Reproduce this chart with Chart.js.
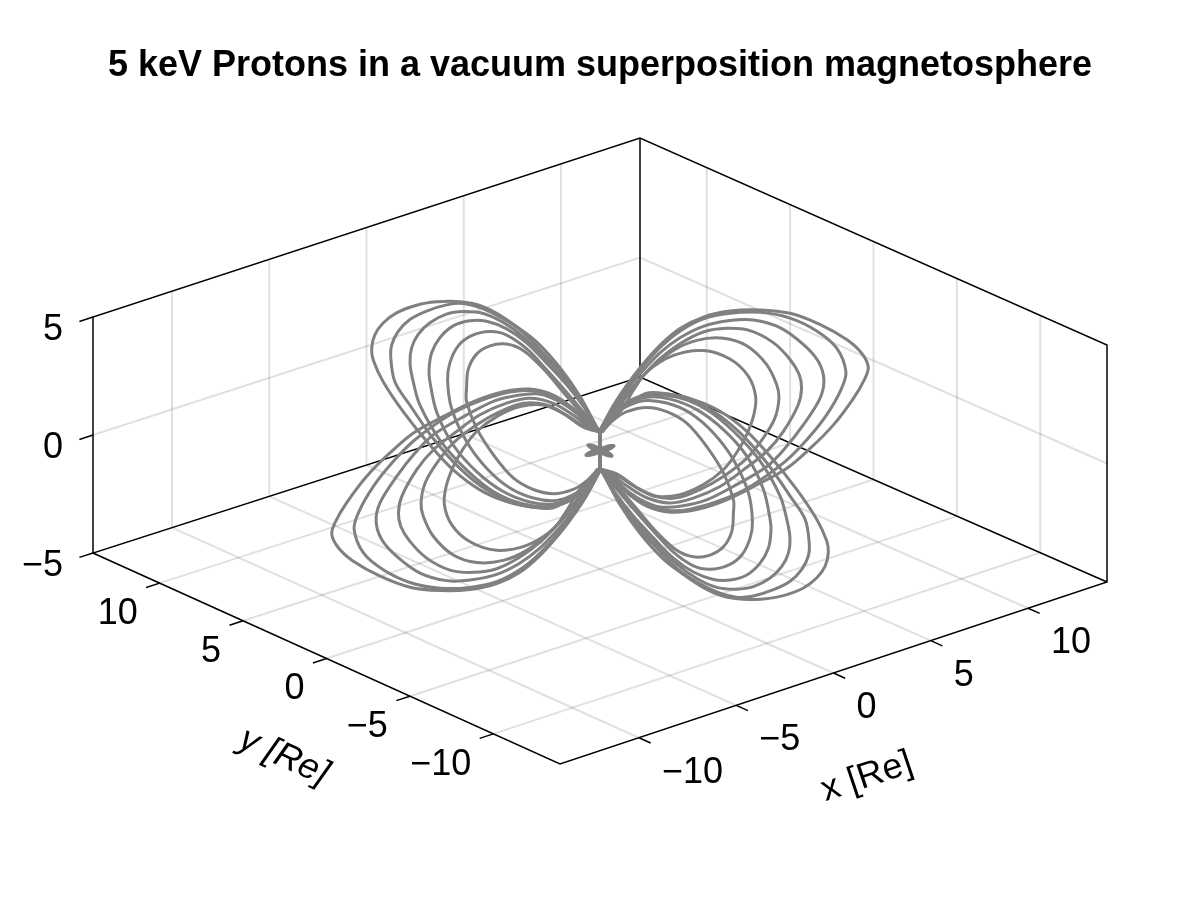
<!DOCTYPE html>
<html>
<head>
<meta charset="utf-8">
<style>
  html, body { margin: 0; padding: 0; background: #fff; }
  canvas { display: block; }
</style>
<script src="https://cdn.jsdelivr.net/npm/chart.js@4"></script>
</head>
<body>
<canvas id="myChart" width="1200" height="900"></canvas>
<script>
const chartTitle = '5 keV Protons in a vacuum superposition magnetosphere';
const xTicks = [-10, -5, 0, 5, 10];
const yTicks = [10, 5, 0, -5, -10];
const zTicks = [-5, 0, 5];
const xLimit = 14.06;
const yLimit = 14;
const zLimit = 5;

// distance from the axis and height of each trajectory
// yLoop* are used for the +y lobe and, negated, for the -y lobe. xLoop* the same for x
const yLoopR = [
  [0.10, 1.20, 2.40, 3.80, 5.00, 6.20, 7.40, 8.60, 9.80, 11.0, 12.2, 13.0, 13.5, 13.69, 13.59, 13.0, 11.79, 10.2, 8.80, 7.20, 5.60, 4.00, 2.80, 1.60, 0.80, 0.11],
  [0.10, 1.20, 2.20, 3.40, 4.60, 5.80, 7.00, 8.20, 9.20, 10.4, 11.4, 12.1, 12.49, 12.55, 12.3, 11.4, 10.0, 8.40, 6.80, 5.00, 3.00, 1.50, 0.11],
  [0.10, 1.20, 2.20, 3.40, 4.60, 5.80, 7.00, 8.20, 9.20, 10.2, 10.9, 11.3, 11.39, 11.2, 10.8, 9.60, 8.00, 6.40, 4.60, 2.80, 1.40, 0.11],
  [0.10, 1.00, 2.00, 3.20, 4.40, 5.60, 6.80, 7.80, 8.80, 9.60, 10.1, 10.25, 10.2, 9.80, 8.80, 7.40, 5.80, 4.20, 2.80, 1.40, 0.11],
  [0.10, 1.00, 2.00, 3.20, 4.40, 5.60, 6.60, 7.70, 8.50, 9.00, 9.14, 8.90, 8.00, 6.80, 5.40, 4.00, 2.60, 1.40, 0.60, 0.11],
  [0.10, 1.00, 2.20, 3.40, 4.60, 5.60, 6.60, 7.40, 7.90, 8.00, 8.00, 7.40, 6.40, 5.20, 4.00, 2.80, 1.60, 0.80, 0.11]
];
const yLoopZ = [
  [0.82, 1.91, 2.74, 3.39, 3.66, 3.84, 3.83, 3.58, 3.19, 2.67, 1.97, 1.29, 0.64, 0.00, -0.46, -1.18, -2.07, -2.97, -3.58, -3.92, -3.91, -3.65, -3.30, -2.42, -1.67, -0.81],
  [0.82, 1.84, 2.52, 3.04, 3.52, 3.73, 3.77, 3.62, 3.25, 2.61, 1.94, 1.22, 0.53, 0.02, -0.96, -1.66, -2.63, -3.39, -3.79, -3.83, -3.33, -2.39, -0.81],
  [0.82, 1.77, 2.38, 2.90, 3.35, 3.58, 3.58, 3.28, 2.86, 2.18, 1.47, 0.77, 0.10, -0.61, -1.47, -2.57, -3.33, -3.74, -3.70, -3.22, -2.36, -0.81],
  [0.82, 1.55, 2.14, 2.68, 3.16, 3.37, 3.31, 3.02, 2.49, 1.74, 0.94, 0.19, -0.29, -1.44, -2.53, -3.21, -3.55, -3.49, -3.13, -2.31, -0.81],
  [0.82, 1.31, 1.83, 2.40, 2.91, 3.11, 2.94, 2.42, 1.74, 0.87, 0.12, -1.01, -2.13, -2.88, -3.28, -3.26, -2.92, -2.22, -1.46, -0.81],
  [0.82, 1.17, 1.77, 2.38, 2.77, 2.73, 2.34, 1.74, 0.94, 0.13, -0.44, -1.38, -2.18, -2.79, -2.90, -2.70, -2.14, -1.53, -0.81]
];
const xLoopR = [
  [0.00, 0.69, 1.37, 2.06, 3.08, 4.11, 5.31, 6.68, 8.22, 9.77, 11.3, 12.68, 13.45, 13.79, 13.62, 13.02, 11.99, 10.79, 9.59, 8.05, 6.51, 4.97, 3.60, 2.40, 1.37, 0.51, 0.00],
  [0.00, 0.69, 1.37, 2.06, 3.08, 4.11, 5.31, 6.68, 8.22, 9.77, 11.14, 12.16, 12.64, 12.42, 11.65, 10.62, 9.51, 7.71, 6.17, 4.63, 3.43, 2.31, 1.37, 0.51, 0.00],
  [0.00, 0.69, 1.37, 2.06, 3.08, 4.11, 5.31, 6.68, 7.88, 9.25, 10.45, 11.22, 11.51, 11.31, 10.45, 9.51, 8.56, 6.85, 5.48, 4.28, 3.08, 2.06, 1.20, 0.51, 0.00],
  [0.00, 0.69, 1.37, 2.06, 3.08, 4.11, 5.31, 6.51, 7.71, 8.91, 9.77, 10.24, 10.36, 10.19, 9.42, 8.56, 7.37, 6.17, 4.80, 3.60, 2.40, 1.37, 0.51, 0.00],
  [0.00, 0.86, 1.71, 2.57, 3.77, 4.97, 6.34, 7.54, 8.56, 9.08, 9.20, 8.99, 8.39, 7.54, 6.34, 5.14, 3.94, 2.74, 1.71, 0.69, 0.00],
  [0.00, 1.03, 1.71, 2.40, 3.77, 5.31, 6.68, 7.62, 8.00, 7.91, 7.54, 7.03, 6.34, 5.31, 4.11, 2.91, 1.89, 0.86, 0.00]
];
const xLoopZ = [
  [0.85, 1.72, 2.38, 2.94, 3.60, 4.03, 4.19, 4.07, 3.70, 3.14, 2.26, 1.25, 0.47, -0.19, -0.64, -1.32, -2.16, -2.83, -3.34, -3.62, -3.83, -3.83, -3.57, -2.99, -2.14, -1.20, -0.78],
  [0.85, 1.67, 2.31, 2.85, 3.50, 3.92, 4.11, 3.98, 3.60, 2.94, 2.03, 1.04, -0.08, -0.73, -1.64, -2.42, -3.03, -3.60, -3.77, -3.72, -3.44, -2.83, -2.07, -1.17, -0.78],
  [0.85, 1.62, 2.19, 2.68, 3.28, 3.64, 3.80, 3.67, 3.37, 2.68, 1.65, 0.73, -0.12, -0.85, -1.74, -2.47, -2.99, -3.36, -3.56, -3.48, -3.21, -2.61, -1.89, -1.13, -0.78],
  [0.85, 1.50, 2.03, 2.47, 3.04, 3.39, 3.56, 3.39, 2.97, 2.14, 1.20, 0.44, -0.17, -0.82, -1.74, -2.35, -2.80, -3.18, -3.30, -3.18, -2.64, -1.86, -1.09, -0.78],
  [0.85, 1.46, 2.21, 2.75, 3.20, 3.30, 3.02, 2.38, 1.32, 0.33, -0.27, -1.06, -1.74, -2.36, -2.80, -3.03, -3.06, -2.66, -1.95, -1.14, -0.78],
  [0.85, 1.34, 2.07, 2.66, 2.99, 2.78, 2.05, 1.08, 0.13, -0.62, -1.36, -1.98, -2.52, -2.87, -2.97, -2.71, -2.07, -1.22, -0.78]
];
// the small cross at the centre
const coreR = [0.00, 0.35, 0.70, 0.35, 0.00];
const coreZ = [0.05, 0.06, 0.00, -0.06, -0.05];
const stemZ = [0.85, -0.85];

// where the eight corners of the box land on the page
const corners = {
  floor: { a: [93, 553], b: [560, 764], c: [1107, 582], d: [640, 377] },
  roof: { a: [93, 317], b: [560, 528], c: [1107, 345], d: [640, 138] }
};

function project(x, y, z) {
  const u = (x + xLimit) / (2 * xLimit);
  const v = (y + yLimit) / (2 * yLimit);
  const w = (z + zLimit) / (2 * zLimit);
  const plane = function (p) {
    return [0, 1].map(i =>
      p.b[i] * (1 - u) * (1 - v) + p.c[i] * u * (1 - v) + p.a[i] * (1 - u) * v + p.d[i] * u * v);
  };
  const lo = plane(corners.floor);
  const hi = plane(corners.roof);
  return { x: lo[0] + (hi[0] - lo[0]) * w, y: lo[1] + (hi[1] - lo[1]) * w };
}

const datasets = [];
function addLine(points, color, width, tension) {
  datasets.push({
    data: points.map(p => project(p[0], p[1], p[2])),
    showLine: true,
    borderColor: color,
    borderWidth: width,
    pointRadius: 0,
    tension: tension || 0,
    fill: false
  });
}

// trajectories first, Chart.js paints the first dataset on top
const curveColor = '#808080';
const curveTension = 0.33;
[1, -1].forEach(sign => {
  yLoopR.forEach((rs, i) => addLine(rs.map((r, j) => [0, sign * r, sign * yLoopZ[i][j]]), curveColor, 3, curveTension));
  xLoopR.forEach((rs, i) => addLine(rs.map((r, j) => [sign * r, 0, sign * xLoopZ[i][j]]), curveColor, 3, curveTension));
  addLine(coreR.map((r, j) => [0, sign * r, coreZ[j]]), curveColor, 4, curveTension);
  addLine(coreR.map((r, j) => [sign * r, 0, coreZ[j]]), curveColor, 4, curveTension);
});
addLine(stemZ.map(z => [0, 0, z]), curveColor, 4);

// black frame and tick marks
const black = '#000000';
const frameWidth = 1.5;
addLine([[-xLimit, yLimit, -zLimit], [-xLimit, yLimit, zLimit], [xLimit, yLimit, zLimit], [xLimit, -yLimit, zLimit], [xLimit, -yLimit, -zLimit], [-xLimit, -yLimit, -zLimit], [-xLimit, yLimit, -zLimit], [xLimit, yLimit, -zLimit], [xLimit, -yLimit, -zLimit]], black, frameWidth);
addLine([[xLimit, yLimit, -zLimit], [xLimit, yLimit, zLimit]], black, frameWidth);
xTicks.forEach(t => addLine([[t, -yLimit, -zLimit], [t, -yLimit - 0.7, -zLimit]], black, frameWidth));
yTicks.forEach(t => addLine([[-xLimit, t, -zLimit], [-xLimit - 0.7, t, -zLimit]], black, frameWidth));
zTicks.forEach(t => addLine([[-xLimit, yLimit, t], [-xLimit - 0.7, yLimit, t]], black, frameWidth));

// light grid on the floor and both back walls
const gridColor = 'rgba(0, 0, 0, 0.12)';
const gridWidth = 2;
xTicks.forEach(t => {
  addLine([[t, -yLimit, -zLimit], [t, yLimit, -zLimit], [t, yLimit, zLimit]], gridColor, gridWidth);
});
yTicks.forEach(t => {
  addLine([[-xLimit, t, -zLimit], [xLimit, t, -zLimit], [xLimit, t, zLimit]], gridColor, gridWidth);
});
addLine([[-xLimit, yLimit, 0], [xLimit, yLimit, 0], [xLimit, -yLimit, 0]], gridColor, gridWidth);

// room taken by the title block, the y scale starts under it
const titleSize = 36;
const titleTop = 44;
const titleBottom = 16;
const titleBlock = titleTop + titleSize * 1.2 + titleBottom;

const axisFont = '36px "Liberation Sans", Arial, sans-serif';
const axisLabels = {
  id: 'axisLabels',
  afterDraw(chart) {
    const c = chart.ctx;
    const sx = chart.scales.x;
    const sy = chart.scales.y;
    const at = (x, y, z) => {
      const p = project(x, y, z);
      return [sx.getPixelForValue(p.x), sy.getPixelForValue(p.y)];
    };
    const num = v => (v < 0 ? '\u2212' + Math.abs(v) : String(v));
    c.save();
    c.fillStyle = black;
    c.font = axisFont;
    c.textBaseline = 'middle';
    c.textAlign = 'left';
    xTicks.forEach(t => {
      const p = at(t, -yLimit, -zLimit);
      c.fillText(num(t), p[0] + 23, p[1] + 35);
    });
    c.textAlign = 'right';
    yTicks.forEach(t => {
      const p = at(-xLimit, t, -zLimit);
      c.fillText(num(t), p[0] - 22, p[1] + 31);
    });
    zTicks.forEach(t => {
      const p = at(-xLimit, yLimit, t);
      c.fillText(num(t), p[0] - 30, p[1] + 13);
    });
    c.textAlign = 'center';
    c.save();
    c.translate(867, 777);
    c.rotate(-18.5 * Math.PI / 180);
    c.fillText('x [Re]', 0, 0);
    c.restore();
    c.save();
    c.translate(284, 757);
    c.rotate(24.3 * Math.PI / 180);
    c.font = 'italic ' + axisFont;
    c.fillText('y [Re]', 0, 0);
    c.restore();
    c.restore();
  }
};

const ctx = document.getElementById('myChart').getContext('2d');
const myChart = new Chart(ctx, {
  type: 'scatter',
  data: { datasets: datasets },
  options: {
    responsive: false,
    animation: false,
    layout: { padding: 0 },
    scales: {
      x: { type: 'linear', min: 0, max: 1200, display: false },
      y: { type: 'linear', min: titleBlock, max: 900, reverse: true, display: false }
    },
    plugins: {
      legend: { display: false },
      tooltip: { enabled: false },
      title: {
        display: true,
        text: chartTitle,
        color: black,
        font: { family: '"Liberation Sans", Arial, sans-serif', size: titleSize, weight: 'bold' },
        padding: { top: titleTop, bottom: titleBottom }
      }
    }
  },
  plugins: [axisLabels]
});
</script>
</body>
</html>
